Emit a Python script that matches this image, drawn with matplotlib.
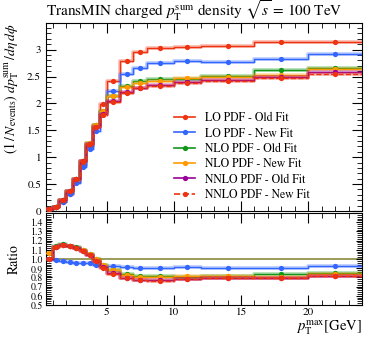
import numpy as np
import matplotlib
matplotlib.use("Agg")
import matplotlib.pyplot as plt
from matplotlib.ticker import MultipleLocator, FixedLocator, NullFormatter, FuncFormatter
from matplotlib.lines import Line2D

plt.rcParams['font.family'] = ['STIXGeneral', 'DejaVu Serif']
plt.rcParams['mathtext.fontset'] = 'stix'

edges = [0.5, 1.0, 1.5, 2.0, 2.5, 3.0, 3.5, 4.0, 4.5, 5.0, 6.0, 7.0, 8.0, 10.0, 12.0, 16.0, 20.0, 24.0]

lo_old = [0.030, 0.070, 0.175, 0.325, 0.535, 0.850, 1.200, 1.600, 1.980, 2.410, 2.780, 2.960, 3.030, 3.050, 3.070, 3.140, 3.150]
lo_new = [0.030, 0.069, 0.171, 0.314, 0.514, 0.812, 1.146, 1.488, 1.832, 2.229, 2.541, 2.664, 2.742, 2.785, 2.778, 2.826, 2.920]
nlo_old = [0.030, 0.080, 0.203, 0.372, 0.602, 0.935, 1.266, 1.600, 1.861, 2.133, 2.321, 2.412, 2.454, 2.460, 2.502, 2.625, 2.662]
nlo_new = [0.032, 0.079, 0.202, 0.371, 0.599, 0.931, 1.266, 1.600, 1.861, 2.133, 2.307, 2.383, 2.424, 2.475, 2.499, 2.534, 2.646]
nnlo_old = [0.030, 0.079, 0.202, 0.371, 0.599, 0.927, 1.254, 1.568, 1.802, 2.036, 2.210, 2.294, 2.333, 2.394, 2.441, 2.496, 2.577]
nnlo_new = [0.030, 0.079, 0.202, 0.370, 0.597, 0.922, 1.248, 1.560, 1.792, 2.024, 2.196, 2.279, 2.318, 2.379, 2.425, 2.481, 2.552]

labels = ["LO PDF - Old Fit", "LO PDF - New Fit", "NLO PDF - Old Fit",
          "NLO PDF - New Fit", "NNLO PDF - Old Fit", "NNLO PDF - New Fit"]
colors = ["#EE3311", "#3366FF", "#109618", "#FF9900", "#990099", "#EE3311"]
styles = ["-", "-", "-", "-", "-", "--"]

series = [lo_old, lo_new, nlo_old, nlo_new, nnlo_old, nnlo_new]

e = np.array(edges)
centers = 0.5 * (e[1:] + e[:-1])

fig = plt.figure(figsize=(3.74, 3.37), dpi=100)
W, H = 374.0, 337.0
x0, x1 = 46 / W, 362 / W
ax = fig.add_axes([x0, 1 - 211 / H, x1 - x0, (211 - 22.7) / H])
rx = fig.add_axes([x0, 1 - 305 / H, x1 - x0, (305 - 213) / H])

ref = np.array(lo_old)

def stepdraw(a, vals, c, ls, z):
    v = np.asarray(vals)
    yy = np.append(v, v[-1])
    a.step(e, yy, where='post', color=c, lw=2.6, alpha=0.35, zorder=z, solid_capstyle='butt')
    a.step(e, yy, where='post', color=c, lw=1.0, ls=ls, zorder=z + 0.1)
    a.plot(centers, v, 'o', color=c, ms=3.8, zorder=z + 0.2, mec='none')

for i, (s, c, ls) in enumerate(zip(series, colors, styles)):
    stepdraw(ax, s, c, ls, 2 + i)

# ratio
rx.axhline(1.0, color='#8a8a40', lw=1.2, zorder=1)
for i, (s, c, ls) in enumerate(zip(series, colors, styles)):
    if i == 0:
        continue
    stepdraw(rx, np.asarray(s) / ref, c, ls, 2 + i)

for a in (ax, rx):
    a.set_xlim(0.5, 24.0)
    a.tick_params(which='both', direction='in', top=True, right=True, labelsize=8)
    a.tick_params(which='major', length=7, width=0.8)
    a.tick_params(which='minor', length=3.5, width=0.6)
    a.xaxis.set_major_locator(FixedLocator([5, 10, 15, 20]))
    a.xaxis.set_minor_locator(MultipleLocator(1))
    for sp in a.spines.values():
        sp.set_linewidth(0.8)

ax.set_ylim(0, 3.5)
ax.yaxis.set_major_locator(FixedLocator([0, 0.5, 1, 1.5, 2, 2.5, 3]))
ax.yaxis.set_major_formatter(FuncFormatter(lambda v, p: ('%g' % v)))
ax.yaxis.set_minor_locator(MultipleLocator(0.1))
ax.xaxis.set_major_formatter(NullFormatter())

rx.set_ylim(0.5, 1.5)
rx.yaxis.set_major_locator(FixedLocator([0.5, 0.6, 0.7, 0.8, 0.9, 1.0, 1.1, 1.2, 1.3, 1.4]))
rx.yaxis.set_major_formatter(FuncFormatter(lambda v, p: '%.1f' % v))
rx.yaxis.set_minor_locator(MultipleLocator(0.02))
rx.tick_params(axis='y', which='major', length=4, labelsize=7, pad=2)
rx.tick_params(axis='x', which='major', pad=2)

ax.set_ylabel(r"$(1\,/\,N_{\mathrm{events}})\ dp_{\mathrm{T}}^{\mathrm{sum}}\,/d\eta\,d\phi$", fontsize=10, loc='top')
rx.set_ylabel("Ratio", fontsize=10)
rx.set_xlabel(r"$p_{\mathrm{T}}^{\mathrm{max}}$[GeV]", fontsize=10.5, loc='right', labelpad=0.5)
ax.yaxis.set_label_coords(-0.08, 1.0)
rx.yaxis.set_label_coords(-0.08, 0.5)

fig.text(x0, 1 - 11 / H, r"TransMIN charged $p_{\mathrm{T}}^{\mathrm{sum}}$ density $\sqrt{s}$ = 100 TeV",
         fontsize=11, ha='left', va='center')

handles = [Line2D([0], [0], color=c, ls=ls, lw=1.2, marker='o', ms=3.8, mec='none')
           for c, ls in zip(colors, styles)]
ax.legend(handles, labels, loc='lower right', bbox_to_anchor=(0.86, 0.01), frameon=False,
          fontsize=8.5, handlelength=1.8, handletextpad=0.8, labelspacing=0.3, borderaxespad=0.3)

fig.savefig("out.png", dpi=100)
